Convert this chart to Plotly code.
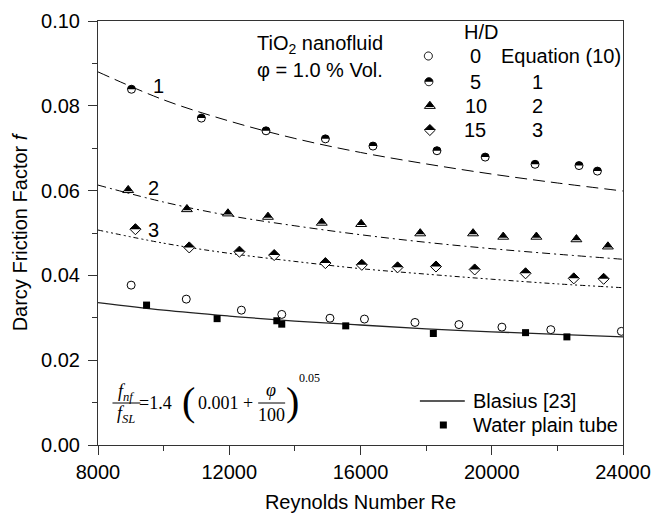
import numpy as np
import plotly.graph_objects as go

# ---------------- data ----------------
re_hd0 = [9010, 10690, 12370, 13600, 15070, 16120, 17660, 19000, 20310, 21800, 23950]
f_hd0 = [0.0377, 0.0344, 0.0318, 0.0308, 0.0299, 0.0297, 0.0289, 0.0284, 0.0278, 0.0272, 0.0268]

re_hd5 = [9020, 11150, 13120, 14930, 16380, 18330, 19800, 21320, 22660, 23220]
f_hd5 = [0.0839, 0.0771, 0.0741, 0.0722, 0.0705, 0.0694, 0.0679, 0.0662, 0.0659, 0.0646]

re_hd10 = [8920, 10710, 11960, 13180, 14820, 16020, 17820, 19430, 20350, 21360, 22580, 23540]
f_hd10 = [0.0601, 0.0556, 0.0546, 0.0538, 0.0524, 0.0521, 0.0499, 0.0499, 0.0491, 0.0491, 0.0485, 0.0468]

re_hd15 = [9140, 10780, 12310, 13370, 14930, 16040, 17130, 18300, 19480, 21030, 22500, 23410]
f_hd15 = [0.0509, 0.0466, 0.0456, 0.0448, 0.0429, 0.0425, 0.0419, 0.0421, 0.0414, 0.0405, 0.0393, 0.0392]

re_water = [9480, 11630, 13450, 13600, 15550, 18220, 21030, 22290]
f_water = [0.0330, 0.0298, 0.0293, 0.0285, 0.0281, 0.0263, 0.0265, 0.0255]

re_curve = [8000, 10000, 12000, 14000, 16000, 18000, 20000, 22000, 24000]
f_eq1 = [0.0880, 0.0814, 0.0764, 0.0723, 0.0690, 0.0663, 0.0639, 0.0618, 0.0599]
f_eq2 = [0.0613, 0.0573, 0.0541, 0.0517, 0.0496, 0.0478, 0.0463, 0.0450, 0.0438]
f_eq3 = [0.0507, 0.0476, 0.0452, 0.0433, 0.0416, 0.0403, 0.0391, 0.0380, 0.0371]
f_blasius = [0.0336, 0.0318, 0.0304, 0.0292, 0.0283, 0.0274, 0.0267, 0.0261, 0.0255]

x_ticks = [8000, 12000, 16000, 20000, 24000]
y_ticks = [0.00, 0.02, 0.04, 0.06, 0.08, 0.10]

# ---------------- layout helpers ----------------
W, H = 654, 516
X0, X1 = 97.5, 623.5
YB, YT = 445.0, 21.0
FONT = "Liberation Sans, Arial, sans-serif"
SERIF = "Liberation Serif, Times New Roman, serif"
MS = 8
MS_TRI = 9.5
MS_DIA = 8.5


def px(x):
    return (x - X0) / (X1 - X0)


def py(y):
    return (YB - y) / (YB - YT)


def path_from(pts):
    return "M " + " L ".join(f"{a:.2f},{b:.2f}" for a, b in pts) + " Z"


def half_path(sym, size):
    r = size / 2
    if sym == "circle":
        t = np.linspace(0, np.pi, 19)
        pts = [(r * np.cos(a), r * np.sin(a)) for a in t]
    elif sym == "triangle-up":
        rt = r * 2 / np.sqrt(3)
        k = 0.8  # filled fraction of the height, from the apex
        yb = r - 1.5 * r * k
        pts = [(-rt * k, yb), (0, r), (rt * k, yb)]
    else:  # diamond
        rd = r * 1.3
        pts = [(-rd, 0), (0, rd), (rd, 0)]
    return path_from(pts)


def full_path(sym, size):
    r = size / 2
    if sym == "circle":
        t = np.linspace(0, 2 * np.pi, 37)[:-1]
        pts = [(r * np.cos(a), r * np.sin(a)) for a in t]
    elif sym == "triangle-up":
        rt = r * 2 / np.sqrt(3)
        pts = [(-rt, -r / 2), (0, r), (rt, -r / 2)]
    elif sym == "square":
        pts = [(-r, -r), (-r, r), (r, r), (r, -r)]
    else:
        rd = r * 1.3
        pts = [(-rd, 0), (0, rd), (rd, 0), (0, -rd)]
    return path_from(pts)


fig = go.Figure()

# curves
fig.add_trace(go.Scatter(x=re_curve, y=f_eq1, mode="lines", line_shape="spline",
                         line=dict(color="black", width=1, dash="12px,6px")))
fig.add_trace(go.Scatter(x=re_curve, y=f_eq2, mode="lines", line_shape="spline",
                         line=dict(color="black", width=1, dash="8px,4px,2px,4px")))
fig.add_trace(go.Scatter(x=re_curve, y=f_eq3, mode="lines", line_shape="spline",
                         line=dict(color="black", width=1, dash="5px,3px,2px,3px,2px,3px")))
fig.add_trace(go.Scatter(x=re_curve, y=f_blasius, mode="lines", line_shape="spline",
                         line=dict(color="#222222", width=1.3)))

mk = dict(color="white", line=dict(color="black", width=1))
fig.add_trace(go.Scatter(x=re_hd0, y=f_hd0, mode="markers",
                         marker=dict(symbol="circle", size=MS, **mk)))
fig.add_trace(go.Scatter(x=re_hd5, y=f_hd5, mode="markers",
                         marker=dict(symbol="circle", size=MS, **mk)))
fig.add_trace(go.Scatter(x=re_hd10, y=f_hd10, mode="markers",
                         marker=dict(symbol="triangle-up", size=MS_TRI, **mk)))
fig.add_trace(go.Scatter(x=re_hd15, y=f_hd15, mode="markers",
                         marker=dict(symbol="diamond", size=MS_DIA, **mk)))
fig.add_trace(go.Scatter(x=re_water, y=f_water, mode="markers",
                         marker=dict(symbol="square", size=7, color="black")))

shapes = []
# half fills for data markers
for xs, ys, sym, sz in [(re_hd5, f_hd5, "circle", MS), (re_hd10, f_hd10, "triangle-up", MS_TRI),
                        (re_hd15, f_hd15, "diamond", MS_DIA)]:
    for xv, yv in zip(xs, ys):
        shapes.append(dict(type="path", xref="x", yref="y", xsizemode="pixel", ysizemode="pixel",
                           xanchor=xv, yanchor=yv, path=half_path(sym, sz),
                           fillcolor="black", line=dict(width=0), layer="above"))

# legend markers
leg_rows = [("circle", False, 428.5, 56, MS), ("circle", True, 429, 81.7, MS),
            ("triangle-up", True, 430, 106, MS_TRI), ("diamond", True, 430, 130, MS_DIA)]
for sym, half, lx, ly, sz in leg_rows:
    shapes.append(dict(type="path", xref="paper", yref="paper", xsizemode="pixel", ysizemode="pixel",
                       xanchor=px(lx), yanchor=py(ly), path=full_path(sym, sz),
                       fillcolor="white", line=dict(color="black", width=1), layer="above"))
    if half:
        shapes.append(dict(type="path", xref="paper", yref="paper", xsizemode="pixel", ysizemode="pixel",
                           xanchor=px(lx), yanchor=py(ly), path=half_path(sym, sz),
                           fillcolor="black", line=dict(width=0), layer="above"))
shapes.append(dict(type="path", xref="paper", yref="paper", xsizemode="pixel", ysizemode="pixel",
                   xanchor=px(443.5), yanchor=py(425), path=full_path("square", 7),
                   fillcolor="black", line=dict(width=0), layer="above"))
shapes.append(dict(type="line", xref="paper", yref="paper", x0=px(420), x1=px(465),
                   y0=py(401), y1=py(401), line=dict(color="#222222", width=1.3)))

# equation fraction bars
shapes.append(dict(type="line", xref="paper", yref="paper", x0=px(112), x1=px(140),
                   y0=py(403), y1=py(403), line=dict(color="black", width=1)))
shapes.append(dict(type="line", xref="paper", yref="paper", x0=px(258), x1=px(285),
                   y0=py(403), y1=py(403), line=dict(color="black", width=1)))

annotations = []


def ann(text, x, y, size=20, xanchor="center", family=FONT):
    annotations.append(dict(text=text, x=px(x), y=py(y), xref="paper", yref="paper",
                            showarrow=False, xanchor=xanchor, yanchor="middle",
                            font=dict(family=family, size=size, color="black")))


ann("H/D", 481.7, 31.7)
ann("0", 476, 56)
ann("Equation (10)", 561, 56)
ann("5", 475.5, 81.7)
ann("1", 538.3, 81.7)
ann("10", 476, 105.5)
ann("2", 538.3, 105.5)
ann("15", 475.5, 130)
ann("3", 538.3, 130)
ann("TiO<sub>2</sub> nanofluid", 320, 45)
ann("φ = 1.0 % Vol.", 320, 70)
ann("1", 158.3, 86)
ann("2", 152.7, 188)
ann("3", 152.7, 230)
ann("Blasius [23]", 471, 401, xanchor="left")
ann("Water plain tube", 471, 425, xanchor="left")

# equation  f_nf / f_SL = 1.4 (0.001 + phi/100)^0.05
ann("<i>f</i><sub><i>nf</i></sub>", 126, 392, size=18, family=SERIF)
ann("<i>f</i><sub><i>SL</i></sub>", 126, 414, size=18, family=SERIF)
ann("=1.4", 155, 403, size=18, family=SERIF)
ann("(", 188, 401, size=40, family=SERIF)
ann("0.001 +", 225, 403, size=18, family=SERIF)
ann("<i>φ</i>", 271, 390, size=18, family=SERIF)
ann("100", 271, 415, size=18, family=SERIF)
ann(")", 292, 401, size=40, family=SERIF)
ann("0.05", 309, 378, size=12, family=SERIF)

fig.update_layout(
    width=W, height=H,
    margin=dict(l=X0, r=W - X1, t=YT, b=H - YB, autoexpand=False),
    paper_bgcolor="white", plot_bgcolor="white",
    showlegend=False,
    font=dict(family=FONT, size=20, color="black"),
    shapes=shapes, annotations=annotations,
)
fig.update_xaxes(
    range=[8000, 24000], tickvals=x_ticks, ticktext=[str(v) for v in x_ticks],
    ticks="outside", ticklen=9, tickwidth=1, tickcolor="#333",
    minor=dict(dtick=2000, tick0=8000, ticks="outside", ticklen=5, tickcolor="#333"),
    showline=True, linecolor="#333", linewidth=1, mirror=True,
    showgrid=False, zeroline=False, automargin=False,
    tickfont=dict(size=20),
    title=dict(text="Reynolds Number Re", font=dict(size=20), standoff=12),
)
fig.update_yaxes(
    range=[0, 0.10], tickvals=y_ticks, ticktext=[f"{v:.2f}" for v in y_ticks],
    ticks="outside", ticklen=9, tickwidth=1, tickcolor="#333",
    minor=dict(dtick=0.01, tick0=0, ticks="outside", ticklen=5, tickcolor="#333"),
    showline=True, linecolor="#333", linewidth=1, mirror=True,
    showgrid=False, zeroline=False, automargin=False,
    tickfont=dict(size=20), ticklabelstandoff=4,
    title=dict(text="Darcy Friction Factor <i>f</i>", font=dict(size=20), standoff=8),
)

fig.write_html("out.html", config={"displayModeBar": False},
               post_script="document.body.style.margin='0px';")
